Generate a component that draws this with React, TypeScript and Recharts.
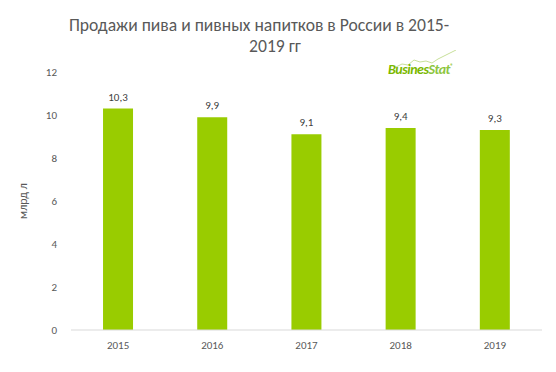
import React from 'react';
import { BarChart, Bar, XAxis, YAxis, LabelList } from 'recharts';

const years = ['2015', '2016', '2017', '2018', '2019'];
const sales = [10.3, 9.9, 9.1, 9.4, 9.3];
const yTicks = [0, 2, 4, 6, 8, 10, 12];

const data = years.map((year, i) => ({ year, value: sales[i] }));

const textColor = '#595959';
const font = 'Carlito, Calibri, "Open Sans", sans-serif';

const fmt = (v: number) => v.toFixed(1).replace('.', ',');

const titleLine = (top: number, center: number): React.CSSProperties => ({
  position: 'absolute',
  top,
  left: center - 278,
  width: 556,
  textAlign: 'center',
  fontSize: 17.6,
  lineHeight: '21px',
  color: textColor,
  whiteSpace: 'nowrap',
});

export default function App() {
  return (
    <div style={{ position: 'absolute', left: 0, top: 0, width: 556, height: 372, background: '#fff', fontFamily: font }}>
      <div style={titleLine(15, 259)}>Продажи пива и пивных напитков в России в 2015-</div>
      <div style={titleLine(36, 275)}>2019 гг</div>
      <svg width={70} height={20} style={{ position: 'absolute', left: 392, top: 50 }}>
        <path
          d="M2 18 L10 14 L16 15 L22 10 L28 12 L34 11 L40 13 L46 9 L52 6 L58 3 L64 0"
          fill="none"
          stroke="#c8e09a"
          strokeWidth={1}
        />
      </svg>
      <div
        style={{
          position: 'absolute',
          left: 388,
          top: 61,
          fontSize: 14,
          fontWeight: 'bold',
          fontStyle: 'italic',
          color: '#7ab800',
          letterSpacing: -0.5,
        }}
      >
        Busines<span style={{ color: '#8dc63f' }}>Stat</span>
        <sup style={{ fontSize: 6 }}>®</sup>
      </div>
      <BarChart
        width={556}
        height={372}
        data={data}
        margin={{ top: 72, right: 14, bottom: 12, left: 0 }}
        barCategoryGap="34%"
        style={{ position: 'absolute', left: 0, top: 0 }}
      >
        <XAxis
          dataKey="year"
          height={30}
          axisLine={{ stroke: '#d9d9d9' }}
          tickLine={false}
          tickSize={0}
          tickMargin={11}
          tick={{ fill: textColor, fontSize: 11, fontFamily: font }}
        />
        <YAxis
          width={71}
          domain={[0, 12]}
          ticks={yTicks}
          axisLine={false}
          tickLine={false}
          tickSize={0}
          tickMargin={14}
          tick={{ fill: textColor, fontSize: 11, fontFamily: font }}
          label={{
            value: 'млрд л',
            angle: -90,
            position: 'insideLeft',
            offset: 23,
            style: { fill: textColor, fontSize: 12, fontFamily: font, textAnchor: 'middle' },
          }}
        />
        <Bar dataKey="value" fill="#99cc00" isAnimationActive={false}>
          <LabelList
            dataKey="value"
            position="top"
            offset={8}
            formatter={(v: number) => fmt(v)}
            style={{ fill: '#404040', fontSize: 11, fontFamily: font }}
          />
        </Bar>
      </BarChart>
    </div>
  );
}
